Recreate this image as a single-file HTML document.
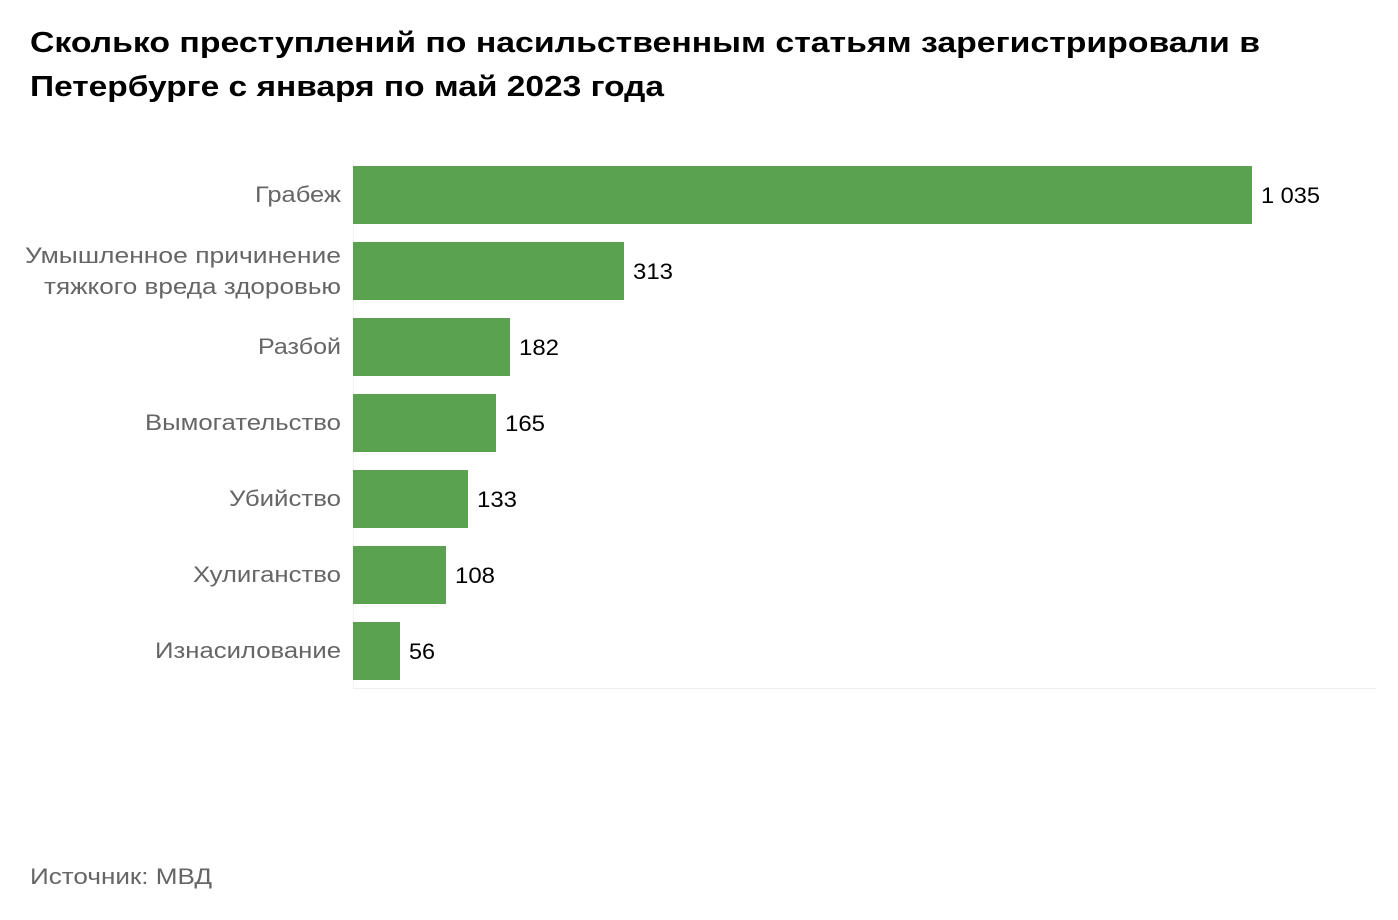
<!DOCTYPE html>
<html><head><meta charset="utf-8"><style>
body{margin:0;background:#fff;}
svg{display:block;font-family:"Liberation Sans",sans-serif;}
.l{fill:#666;font-size:22px;text-anchor:end;}
.v{fill:#000;font-size:22px;}
.t{font-weight:bold;font-size:29px;fill:#000;}
</style></head><body>
<svg width="1398" height="920" xmlns="http://www.w3.org/2000/svg">
<text class="t" x="30" y="52" textLength="1230" lengthAdjust="spacingAndGlyphs">Сколько преступлений по насильственным статьям зарегистрировали в</text>
<text class="t" x="30" y="96" textLength="634" lengthAdjust="spacingAndGlyphs">Петербурге с января по май 2023 года</text>
<line x1="353" y1="688.5" x2="1376" y2="688.5" stroke="#eee" stroke-width="1"/>
<line x1="353.5" y1="160" x2="353.5" y2="688" stroke="#f2f2f2" stroke-width="1"/>
<g fill="#5aa150">
<rect x="353" y="166" width="899" height="58"/>
<rect x="353" y="242" width="271" height="58"/>
<rect x="353" y="318" width="157" height="58"/>
<rect x="353" y="394" width="143" height="58"/>
<rect x="353" y="470" width="115" height="58"/>
<rect x="353" y="546" width="93" height="58"/>
<rect x="353" y="622" width="47" height="58"/>
</g>
<text class="l" x="341" y="202" textLength="86" lengthAdjust="spacingAndGlyphs">Грабеж</text>
<text class="l" x="341" y="263" textLength="316" lengthAdjust="spacingAndGlyphs">Умышленное причинение</text>
<text class="l" x="341" y="294" textLength="297" lengthAdjust="spacingAndGlyphs">тяжкого вреда здоровью</text>
<text class="l" x="341" y="354" textLength="83" lengthAdjust="spacingAndGlyphs">Разбой</text>
<text class="l" x="341" y="430" textLength="196" lengthAdjust="spacingAndGlyphs">Вымогательство</text>
<text class="l" x="341" y="506" textLength="112" lengthAdjust="spacingAndGlyphs">Убийство</text>
<text class="l" x="341" y="582" textLength="148" lengthAdjust="spacingAndGlyphs">Хулиганство</text>
<text class="l" x="341" y="658" textLength="186" lengthAdjust="spacingAndGlyphs">Изнасилование</text>
<text class="v" x="1261" y="203" textLength="59" lengthAdjust="spacingAndGlyphs">1 035</text>
<text class="v" x="633" y="279" textLength="40" lengthAdjust="spacingAndGlyphs">313</text>
<text class="v" x="519" y="355" textLength="40" lengthAdjust="spacingAndGlyphs">182</text>
<text class="v" x="505" y="431" textLength="40" lengthAdjust="spacingAndGlyphs">165</text>
<text class="v" x="477" y="507" textLength="40" lengthAdjust="spacingAndGlyphs">133</text>
<text class="v" x="455" y="583" textLength="40" lengthAdjust="spacingAndGlyphs">108</text>
<text class="v" x="409" y="659" textLength="26" lengthAdjust="spacingAndGlyphs">56</text>
<text x="30" y="884" style="fill:#666;font-size:22px" textLength="182" lengthAdjust="spacingAndGlyphs">Источник: МВД</text>
</svg>
</body></html>
